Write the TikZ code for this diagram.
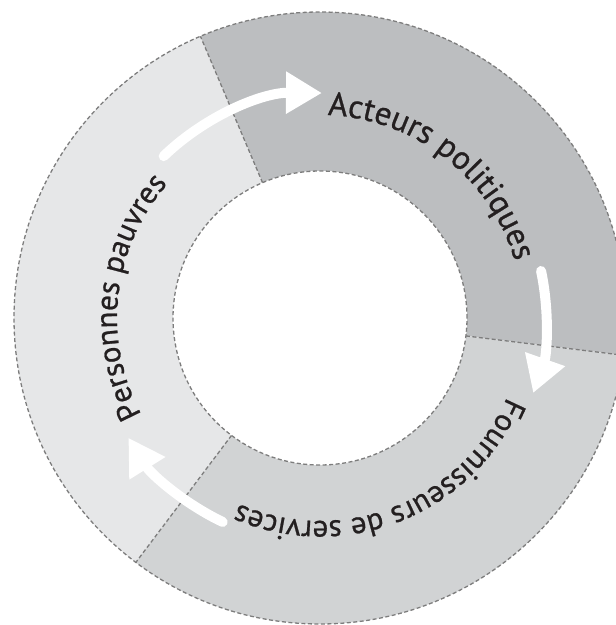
\documentclass[tikz,border=0pt]{standalone}
\usepackage{fontspec}
\setmainfont{PT Sans}
\newfontfamily\labelfont{PT Sans}[FakeBold=0.8]
\usetikzlibrary{arrows.meta,decorations.text}
\definecolor{segA}{RGB}{230,231,232}
\definecolor{segB}{RGB}{188,190,192}
\definecolor{segC}{RGB}{209,211,212}
\definecolor{dashgray}{RGB}{125,125,125}
\definecolor{ink}{RGB}{35,31,32}
\begin{document}
\begin{tikzpicture}[x=1pt,y=1pt,
  ringline/.style={draw=dashgray, line width=1.3pt, dash pattern=on 4pt off 2.5pt},
  flow/.style={draw=white, line width=10pt, line cap=round, -{Triangle[width=40pt,length=36pt]}},
  arclabel/.style 2 args={decorate, decoration={text along path, text align=center, text color=ink,
     text={|\labelfont\fontsize{#1}{36pt}\selectfont|#2}}}
  ]
\useasboundingbox (0,0) rectangle (616,625);
\clip (0,0) rectangle (616,625);
\coordinate (c) at (320,307);
% sectors
\fill[segA] ([shift={(113:306)}]c) arc[start angle=113,end angle=233,radius=306]
   -- ([shift={(233:147)}]c) arc[start angle=233,end angle=113,radius=147] -- cycle;
\fill[segB] ([shift={(-7:306)}]c) arc[start angle=-7,end angle=113,radius=306]
   -- ([shift={(113:147)}]c) arc[start angle=113,end angle=-7,radius=147] -- cycle;
\fill[segC] ([shift={(233:306)}]c) arc[start angle=233,end angle=353,radius=306]
   -- ([shift={(353:147)}]c) arc[start angle=353,end angle=233,radius=147] -- cycle;
% dividers and circles
\draw[ringline] ([shift={(113:147)}]c) -- ([shift={(113:306)}]c);
\draw[ringline] ([shift={(233:147)}]c) -- ([shift={(233:306)}]c);
\draw[ringline] ([shift={(-7:147)}]c) -- ([shift={(-7:306)}]c);
\draw[ringline] (c) circle[radius=306];
\draw[ringline, fill=white] (c) circle[radius=147];
% arrows
\draw[flow] ([shift={(134:225)}]c) arc[start angle=134,end angle=89.5,radius=225];
\draw[flow] ([shift={(12:226)}]c) arc[start angle=12,end angle=-19.4,radius=226];
\draw[flow] ([shift={(244.5:226)}]c) arc[start angle=244.5,end angle=212,radius=226];
% labels
\path[arclabel={31pt}{Personnes pauvres}] ([shift={(223.5:203)}]c) arc[start angle=223.5,end angle=123.5,radius=203];
\path[arclabel={33pt}{Acteurs politiques}] ([shift={(102:203)}]c) arc[start angle=102,end angle=2,radius=203];
\path[arclabel={31pt}{Fournisseurs de services}] ([shift={(351.7:203)}]c) arc[start angle=351.7,end angle=231.7,radius=203];
\end{tikzpicture}
\end{document}
